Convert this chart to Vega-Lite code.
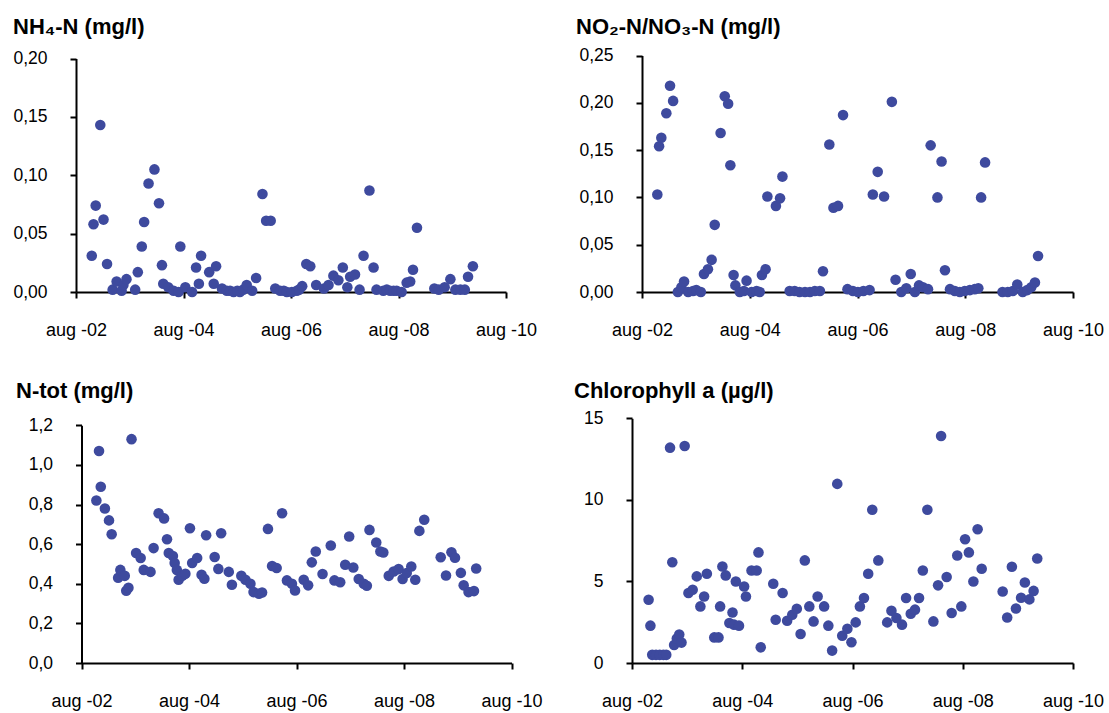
{
  "$schema": "https://vega.github.io/schema/vega-lite/v6.json",
  "background": "white",
  "padding": {"left": 12, "top": 16, "right": 5, "bottom": 5},
  "columns": 2,
  "spacing": {"row": 125, "column": 115},
  "bounds": "flush",
  "datasets": {
    "nh4": [
      {"date":"2002-11-16","value":0.031},{"date":"2002-11-28","value":0.058},{"date":"2002-12-13","value":0.074},
      {"date":"2003-01-13","value":0.143},{"date":"2003-02-04","value":0.062},{"date":"2003-02-28","value":0.024},
      {"date":"2003-04-07","value":0.002},{"date":"2003-05-04","value":0.009},{"date":"2003-06-07","value":0.001},
      {"date":"2003-06-19","value":0.006},{"date":"2003-07-10","value":0.011},{"date":"2003-09-07","value":0.002},
      {"date":"2003-09-25","value":0.017},{"date":"2003-10-22","value":0.039},{"date":"2003-11-07","value":0.060},
      {"date":"2003-12-07","value":0.093},{"date":"2004-01-16","value":0.105},{"date":"2004-02-16","value":0.076},
      {"date":"2004-03-07","value":0.023},{"date":"2004-03-16","value":0.007},{"date":"2004-04-19","value":0.004},
      {"date":"2004-05-25","value":0.001},{"date":"2004-06-28","value":0.000},{"date":"2004-07-10","value":0.039},
      {"date":"2004-08-13","value":0.004},{"date":"2004-09-28","value":0.000},{"date":"2004-10-25","value":0.021},
      {"date":"2004-11-13","value":0.007},{"date":"2004-11-28","value":0.031},{"date":"2005-01-22","value":0.017},
      {"date":"2005-02-22","value":0.007},{"date":"2005-03-10","value":0.022},{"date":"2005-04-19","value":0.003},
      {"date":"2005-05-22","value":0.001},{"date":"2005-06-13","value":0.001},{"date":"2005-07-07","value":0.000},
      {"date":"2005-08-01","value":0.001},{"date":"2005-08-19","value":0.000},{"date":"2005-09-10","value":0.002},
      {"date":"2005-10-04","value":0.006},{"date":"2005-11-10","value":0.001},{"date":"2005-12-07","value":0.012},
      {"date":"2006-01-19","value":0.084},{"date":"2006-02-13","value":0.061},{"date":"2006-03-16","value":0.061},
      {"date":"2006-04-16","value":0.003},{"date":"2006-05-19","value":0.001},{"date":"2006-06-13","value":0.001},
      {"date":"2006-07-04","value":0.000},{"date":"2006-08-07","value":0.000},{"date":"2006-09-10","value":0.001},
      {"date":"2006-09-25","value":0.002},{"date":"2006-10-16","value":0.005},{"date":"2006-11-13","value":0.024},
      {"date":"2006-12-10","value":0.022},{"date":"2007-01-19","value":0.006},{"date":"2007-03-13","value":0.003},
      {"date":"2007-04-13","value":0.006},{"date":"2007-05-16","value":0.014},{"date":"2007-06-19","value":0.010},
      {"date":"2007-07-19","value":0.021},{"date":"2007-08-19","value":0.004},{"date":"2007-09-07","value":0.013},
      {"date":"2007-10-10","value":0.015},{"date":"2007-11-10","value":0.002},{"date":"2007-12-07","value":0.031},
      {"date":"2008-01-16","value":0.087},{"date":"2008-02-13","value":0.021},{"date":"2008-03-04","value":0.002},
      {"date":"2008-04-19","value":0.001},{"date":"2008-05-13","value":0.002},{"date":"2008-06-04","value":0.001},
      {"date":"2008-06-28","value":0.001},{"date":"2008-07-19","value":0.001},{"date":"2008-08-22","value":0.000},
      {"date":"2008-09-25","value":0.008},{"date":"2008-10-19","value":0.009},{"date":"2008-11-07","value":0.019},
      {"date":"2008-12-04","value":0.055},{"date":"2009-04-01","value":0.003},{"date":"2009-05-01","value":0.002},
      {"date":"2009-06-10","value":0.004},{"date":"2009-07-19","value":0.011},{"date":"2009-08-22","value":0.002},
      {"date":"2009-09-25","value":0.002},{"date":"2009-10-25","value":0.002},{"date":"2009-11-16","value":0.013},
      {"date":"2009-12-19","value":0.022}
    ],
    "no": [
      {"date":"2002-11-13","value":0.103},{"date":"2002-11-25","value":0.154},{"date":"2002-12-10","value":0.163},
      {"date":"2003-01-13","value":0.189},{"date":"2003-02-07","value":0.218},{"date":"2003-02-28","value":0.202},
      {"date":"2003-04-01","value":0.000},{"date":"2003-04-25","value":0.005},{"date":"2003-05-13","value":0.011},
      {"date":"2003-06-10","value":0.000},{"date":"2003-07-13","value":0.001},{"date":"2003-08-04","value":0.002},
      {"date":"2003-09-04","value":0.000},{"date":"2003-09-25","value":0.019},{"date":"2003-10-22","value":0.024},
      {"date":"2003-11-16","value":0.034},{"date":"2003-12-07","value":0.071},{"date":"2004-01-16","value":0.168},
      {"date":"2004-02-13","value":0.207},{"date":"2004-03-07","value":0.199},{"date":"2004-03-22","value":0.134},
      {"date":"2004-04-13","value":0.018},{"date":"2004-04-25","value":0.007},{"date":"2004-05-25","value":0.000},
      {"date":"2004-06-22","value":0.001},{"date":"2004-07-10","value":0.012},{"date":"2004-08-13","value":0.000},
      {"date":"2004-09-16","value":0.001},{"date":"2004-10-07","value":0.000},{"date":"2004-10-22","value":0.018},
      {"date":"2004-11-16","value":0.024},{"date":"2004-11-28","value":0.101},{"date":"2005-01-25","value":0.091},
      {"date":"2005-02-22","value":0.099},{"date":"2005-03-10","value":0.122},{"date":"2005-04-28","value":0.001},
      {"date":"2005-06-01","value":0.001},{"date":"2005-07-04","value":0.000},{"date":"2005-08-10","value":0.000},
      {"date":"2005-09-13","value":0.000},{"date":"2005-10-16","value":0.001},{"date":"2005-11-19","value":0.001},
      {"date":"2005-12-10","value":0.022},{"date":"2006-01-22","value":0.156},{"date":"2006-02-19","value":0.089},
      {"date":"2006-03-22","value":0.091},{"date":"2006-04-25","value":0.187},{"date":"2006-05-25","value":0.003},
      {"date":"2006-07-01","value":0.001},{"date":"2006-08-04","value":0.000},{"date":"2006-09-10","value":0.001},
      {"date":"2006-10-22","value":0.002},{"date":"2006-11-13","value":0.103},{"date":"2006-12-16","value":0.127},
      {"date":"2007-01-28","value":0.101},{"date":"2007-03-22","value":0.201},{"date":"2007-04-16","value":0.013},
      {"date":"2007-05-25","value":0.000},{"date":"2007-06-28","value":0.004},{"date":"2007-07-28","value":0.019},
      {"date":"2007-08-25","value":0.000},{"date":"2007-09-22","value":0.007},{"date":"2007-10-19","value":0.005},
      {"date":"2007-11-22","value":0.003},{"date":"2007-12-10","value":0.155},{"date":"2008-01-25","value":0.100},
      {"date":"2008-02-22","value":0.138},{"date":"2008-03-16","value":0.023},{"date":"2008-04-19","value":0.003},
      {"date":"2008-05-22","value":0.001},{"date":"2008-06-25","value":0.000},{"date":"2008-07-28","value":0.001},
      {"date":"2008-09-01","value":0.002},{"date":"2008-10-04","value":0.003},{"date":"2008-10-28","value":0.004},
      {"date":"2008-11-16","value":0.100},{"date":"2008-12-13","value":0.137},{"date":"2009-04-10","value":0.000},
      {"date":"2009-05-16","value":0.000},{"date":"2009-06-19","value":0.001},{"date":"2009-07-19","value":0.008},
      {"date":"2009-08-25","value":0.000},{"date":"2009-09-25","value":0.002},{"date":"2009-10-22","value":0.005},
      {"date":"2009-11-16","value":0.010},{"date":"2009-12-07","value":0.038}
    ],
    "ntot": [
      {"date":"2002-11-10","value":0.82},{"date":"2002-11-28","value":1.07},{"date":"2002-12-10","value":0.89},
      {"date":"2003-01-07","value":0.78},{"date":"2003-02-04","value":0.72},{"date":"2003-02-22","value":0.65},
      {"date":"2003-04-07","value":0.43},{"date":"2003-04-22","value":0.47},{"date":"2003-05-22","value":0.44},
      {"date":"2003-06-01","value":0.365},{"date":"2003-06-16","value":0.38},{"date":"2003-07-07","value":1.13},
      {"date":"2003-08-07","value":0.555},{"date":"2003-09-07","value":0.53},{"date":"2003-09-28","value":0.47},
      {"date":"2003-11-13","value":0.46},{"date":"2003-12-04","value":0.58},{"date":"2004-01-07","value":0.756},
      {"date":"2004-02-13","value":0.73},{"date":"2004-03-04","value":0.625},{"date":"2004-03-16","value":0.555},
      {"date":"2004-04-13","value":0.54},{"date":"2004-04-25","value":0.505},{"date":"2004-05-10","value":0.47},
      {"date":"2004-05-22","value":0.42},{"date":"2004-06-16","value":0.44},{"date":"2004-07-07","value":0.45},
      {"date":"2004-08-07","value":0.68},{"date":"2004-08-22","value":0.505},{"date":"2004-09-25","value":0.53},
      {"date":"2004-10-25","value":0.445},{"date":"2004-11-13","value":0.425},{"date":"2004-11-25","value":0.645},
      {"date":"2005-01-22","value":0.535},{"date":"2005-02-16","value":0.475},{"date":"2005-03-07","value":0.655},
      {"date":"2005-04-28","value":0.46},{"date":"2005-05-19","value":0.395},{"date":"2005-07-22","value":0.44},
      {"date":"2005-08-19","value":0.42},{"date":"2005-09-22","value":0.40},{"date":"2005-10-13","value":0.358},
      {"date":"2005-11-19","value":0.35},{"date":"2005-12-10","value":0.356},{"date":"2006-01-19","value":0.677},
      {"date":"2006-02-16","value":0.49},{"date":"2006-03-19","value":0.48},{"date":"2006-04-25","value":0.756},
      {"date":"2006-05-28","value":0.417},{"date":"2006-07-01","value":0.40},{"date":"2006-07-22","value":0.366},
      {"date":"2006-09-19","value":0.42},{"date":"2006-10-19","value":0.392},{"date":"2006-11-13","value":0.508},
      {"date":"2006-12-10","value":0.563},{"date":"2007-01-25","value":0.449},{"date":"2007-03-22","value":0.593},
      {"date":"2007-04-16","value":0.417},{"date":"2007-05-25","value":0.408},{"date":"2007-06-28","value":0.496},
      {"date":"2007-07-25","value":0.639},{"date":"2007-08-22","value":0.482},{"date":"2007-09-28","value":0.424},
      {"date":"2007-11-01","value":0.40},{"date":"2007-11-22","value":0.39},{"date":"2007-12-10","value":0.672},
      {"date":"2008-01-25","value":0.608},{"date":"2008-02-22","value":0.563},{"date":"2008-03-13","value":0.558},
      {"date":"2008-04-19","value":0.44},{"date":"2008-05-22","value":0.462},{"date":"2008-06-25","value":0.474},
      {"date":"2008-07-22","value":0.424},{"date":"2008-08-19","value":0.454},{"date":"2008-09-19","value":0.487},
      {"date":"2008-10-16","value":0.42},{"date":"2008-11-13","value":0.667},{"date":"2008-12-16","value":0.723},
      {"date":"2009-04-07","value":0.534},{"date":"2009-05-13","value":0.442},{"date":"2009-06-19","value":0.559},
      {"date":"2009-07-13","value":0.531},{"date":"2009-08-22","value":0.455},{"date":"2009-09-10","value":0.392},
      {"date":"2009-10-13","value":0.358},{"date":"2009-11-19","value":0.363},{"date":"2009-12-04","value":0.477}
    ],
    "chl": [
      {"date":"2002-11-19","value":3.88},{"date":"2002-12-01","value":2.29},{"date":"2002-12-13","value":0.5},
      {"date":"2003-01-07","value":0.5},{"date":"2003-02-01","value":0.5},{"date":"2003-02-25","value":0.5},
      {"date":"2003-03-16","value":0.5},{"date":"2003-04-10","value":13.2},{"date":"2003-04-25","value":6.18},
      {"date":"2003-05-07","value":1.1},{"date":"2003-05-25","value":1.5},{"date":"2003-06-10","value":1.75},
      {"date":"2003-06-25","value":1.25},{"date":"2003-07-16","value":13.3},{"date":"2003-08-10","value":4.29},
      {"date":"2003-09-07","value":4.49},{"date":"2003-10-04","value":5.31},{"date":"2003-10-28","value":3.47},
      {"date":"2003-11-22","value":4.08},{"date":"2003-12-10","value":5.47},{"date":"2004-01-28","value":1.57},
      {"date":"2004-02-25","value":1.57},{"date":"2004-03-07","value":3.47},{"date":"2004-03-22","value":5.92},
      {"date":"2004-04-13","value":5.37},{"date":"2004-05-07","value":2.45},{"date":"2004-05-28","value":3.1},
      {"date":"2004-06-07","value":2.35},{"date":"2004-06-19","value":5.0},{"date":"2004-07-10","value":2.29},
      {"date":"2004-08-13","value":4.69},{"date":"2004-08-25","value":4.08},{"date":"2004-10-01","value":5.67},
      {"date":"2004-11-04","value":5.67},{"date":"2004-11-16","value":6.78},{"date":"2004-12-01","value":0.96},
      {"date":"2005-02-22","value":4.86},{"date":"2005-03-10","value":2.65},{"date":"2005-04-25","value":4.29},
      {"date":"2005-05-25","value":2.59},{"date":"2005-06-28","value":2.96},{"date":"2005-07-28","value":3.33},
      {"date":"2005-08-22","value":1.78},{"date":"2005-09-19","value":6.29},{"date":"2005-10-19","value":3.47},
      {"date":"2005-11-16","value":2.55},{"date":"2005-12-13","value":4.08},{"date":"2006-01-25","value":3.47},
      {"date":"2006-02-22","value":2.29},{"date":"2006-03-19","value":0.76},{"date":"2006-04-22","value":10.98},
      {"date":"2006-05-25","value":1.67},{"date":"2006-06-28","value":2.1},{"date":"2006-07-25","value":1.27},
      {"date":"2006-08-22","value":2.49},{"date":"2006-09-19","value":3.47},{"date":"2006-10-16","value":3.98},
      {"date":"2006-11-13","value":5.47},{"date":"2006-12-10","value":9.39},{"date":"2007-01-19","value":6.29},
      {"date":"2007-03-19","value":2.49},{"date":"2007-04-16","value":3.2},{"date":"2007-05-19","value":2.76},
      {"date":"2007-06-25","value":2.35},{"date":"2007-07-22","value":3.98},{"date":"2007-08-22","value":3.02},
      {"date":"2007-09-19","value":3.27},{"date":"2007-10-16","value":3.98},{"date":"2007-11-10","value":5.67},
      {"date":"2007-12-10","value":9.39},{"date":"2008-01-19","value":2.55},{"date":"2008-02-19","value":4.76},
      {"date":"2008-03-10","value":13.92},{"date":"2008-04-16","value":5.27},{"date":"2008-05-19","value":3.06},
      {"date":"2008-06-25","value":6.59},{"date":"2008-07-22","value":3.47},{"date":"2008-08-16","value":7.59},
      {"date":"2008-09-10","value":6.78},{"date":"2008-10-10","value":5.0},{"date":"2008-11-07","value":8.2},
      {"date":"2008-12-04","value":5.78},{"date":"2009-04-22","value":4.38},{"date":"2009-05-22","value":2.79},
      {"date":"2009-06-22","value":5.9},{"date":"2009-07-19","value":3.34},{"date":"2009-08-22","value":4.0},
      {"date":"2009-09-16","value":4.93},{"date":"2009-10-16","value":3.9},{"date":"2009-11-13","value":4.42},
      {"date":"2009-12-07","value":6.41}
    ]
  },
  "concat": [
    {
      "data": {"name": "nh4"},
      "width": 441, "height": 246,
      "title": {"text": "NH₄-N (mg/l)", "dx": -63, "offset": 7},
      "mark": {"type": "circle", "size": 112, "color": "#3E4A9E", "opacity": 1},
      "encoding": {
        "x": {"field": "date", "type": "temporal",
          "scale": {"type": "utc", "domain": [{"year": 2002, "month": 8, "date": 1, "utc": true}, {"year": 2010, "month": 8, "date": 1, "utc": true}], "range": [0, 430]},
          "axis": {"title": null, "values": [{"year": 2002, "month": 8, "date": 1, "utc": true}, {"year": 2004, "month": 8, "date": 1, "utc": true}, {"year": 2006, "month": 8, "date": 1, "utc": true}, {"year": 2008, "month": 8, "date": 1, "utc": true}, {"year": 2010, "month": 8, "date": 1, "utc": true}], "labelExpr": "lower(utcFormat(datum.value, '%b -%y'))"}},
        "y": {"field": "value", "type": "quantitative",
          "scale": {"domain": [0, 0.2], "range": [246, 12.5], "nice": false},
          "axis": {"title": null, "values": [0, 0.05, 0.1, 0.15, 0.2], "labelExpr": "replace(format(datum.value, '.2f'), '.', ',')"}}
      }
    },
    {
      "data": {"name": "no"},
      "width": 441, "height": 246,
      "title": {"text": "NO₂-N/NO₃-N (mg/l)", "dx": -56, "offset": 7},
      "mark": {"type": "circle", "size": 112, "color": "#3E4A9E", "opacity": 1},
      "encoding": {
        "x": {"field": "date", "type": "temporal",
          "scale": {"type": "utc", "domain": [{"year": 2002, "month": 8, "date": 1, "utc": true}, {"year": 2010, "month": 8, "date": 1, "utc": true}], "range": [10, 441]},
          "axis": {"title": null, "values": [{"year": 2002, "month": 8, "date": 1, "utc": true}, {"year": 2004, "month": 8, "date": 1, "utc": true}, {"year": 2006, "month": 8, "date": 1, "utc": true}, {"year": 2008, "month": 8, "date": 1, "utc": true}, {"year": 2010, "month": 8, "date": 1, "utc": true}], "labelExpr": "lower(utcFormat(datum.value, '%b -%y'))"}},
        "y": {"field": "value", "type": "quantitative",
          "scale": {"domain": [0, 0.25], "range": [246, 9.5], "nice": false},
          "axis": {"title": null, "offset": -10, "values": [0, 0.05, 0.1, 0.15, 0.2, 0.25], "labelExpr": "replace(format(datum.value, '.2f'), '.', ',')"}}
      }
    },
    {
      "data": {"name": "ntot"},
      "width": 441, "height": 246,
      "title": {"text": "N-tot (mg/l)", "dx": -60, "offset": 13},
      "mark": {"type": "circle", "size": 112, "color": "#3E4A9E", "opacity": 1},
      "encoding": {
        "x": {"field": "date", "type": "temporal",
          "scale": {"type": "utc", "domain": [{"year": 2002, "month": 8, "date": 1, "utc": true}, {"year": 2010, "month": 8, "date": 1, "utc": true}], "range": [5.5, 435.5]},
          "axis": {"title": null, "values": [{"year": 2002, "month": 8, "date": 1, "utc": true}, {"year": 2004, "month": 8, "date": 1, "utc": true}, {"year": 2006, "month": 8, "date": 1, "utc": true}, {"year": 2008, "month": 8, "date": 1, "utc": true}, {"year": 2010, "month": 8, "date": 1, "utc": true}], "labelExpr": "lower(utcFormat(datum.value, '%b -%y'))"}},
        "y": {"field": "value", "type": "quantitative",
          "scale": {"domain": [0, 1.2], "range": [246, 8.3], "nice": false},
          "axis": {"title": null, "offset": -5.5, "values": [0, 0.2, 0.4, 0.6, 0.8, 1.0, 1.2], "labelExpr": "replace(format(datum.value, '.1f'), '.', ',')"}}
      }
    },
    {
      "data": {"name": "chl"},
      "width": 441, "height": 246,
      "title": {"text": "Chlorophyll a (µg/l)", "dx": -58, "offset": 6},
      "mark": {"type": "circle", "size": 112, "color": "#3E4A9E", "opacity": 1},
      "encoding": {
        "x": {"field": "date", "type": "temporal",
          "scale": {"type": "utc", "domain": [{"year": 2002, "month": 8, "date": 1, "utc": true}, {"year": 2010, "month": 8, "date": 1, "utc": true}], "range": [0, 441]},
          "axis": {"title": null, "values": [{"year": 2002, "month": 8, "date": 1, "utc": true}, {"year": 2004, "month": 8, "date": 1, "utc": true}, {"year": 2006, "month": 8, "date": 1, "utc": true}, {"year": 2008, "month": 8, "date": 1, "utc": true}, {"year": 2010, "month": 8, "date": 1, "utc": true}], "labelExpr": "lower(utcFormat(datum.value, '%b -%y'))"}},
        "y": {"field": "value", "type": "quantitative",
          "scale": {"domain": [0, 15], "range": [246, 1.3], "nice": false},
          "axis": {"title": null, "values": [0, 5, 10, 15], "format": "d"}}
      }
    }
  ],
  "config": {
    "view": {"stroke": null},
    "font": "Liberation Sans",
    "axis": {"grid": false, "domainColor": "#000000", "domainWidth": 2, "tickColor": "#000000", "tickWidth": 2, "tickSize": 6, "labelColor": "#000000", "labelFont": "Liberation Sans", "labelFontSize": 17.5, "labelPadding": 23, "labelOverlap": false},
    "axisX": {"labelFontSize": 18, "labelFlush": false},
    "title": {"font": "Liberation Sans", "fontSize": 22, "fontWeight": "bold", "color": "#000000", "anchor": "start", "frame": "group"}
  }
}
